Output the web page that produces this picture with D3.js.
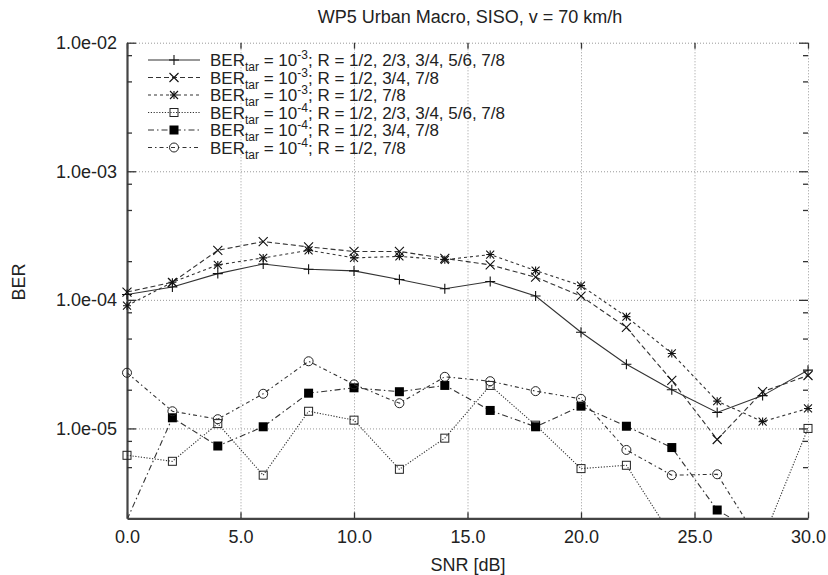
<!DOCTYPE html>
<html>
<head>
<meta charset="utf-8">
<script src="https://cdn.jsdelivr.net/npm/d3@7"></script>
<style>
  body { margin: 0; background: #fff; }
  svg { font-family: "Liberation Sans", Arial, sans-serif; }
  .grid line { stroke: #999; stroke-width: 1; stroke-dasharray: 1, 2; }
  .grid path { display: none; }
</style>
</head>
<body>
<svg id="chart" width="828" height="575"></svg>
<script>
// SNR points (dB)
var snr = [0, 2, 4, 6, 8, 10, 12, 14, 16, 18, 20, 22, 24, 26, 28, 30];

// BER_tar = 1e-3
var berA = [1.10e-4, 1.26e-4, 1.60e-4, 1.90e-4, 1.73e-4, 1.68e-4, 1.44e-4, 1.22e-4, 1.39e-4, 1.07e-4, 5.6e-5, 3.16e-5, 2.0e-5, 1.33e-5, 1.8e-5, 2.84e-5];
var berB = [1.15e-4, 1.37e-4, 2.43e-4, 2.84e-4, 2.58e-4, 2.38e-4, 2.38e-4, 2.10e-4, 1.87e-4, 1.50e-4, 1.07e-4, 6.1e-5, 2.36e-5, 8.2e-6, 1.93e-5, 2.58e-5];
var berC = [9.0e-5, 1.37e-4, 1.87e-4, 2.12e-4, 2.43e-4, 2.12e-4, 2.18e-4, 2.05e-4, 2.25e-4, 1.69e-4, 1.29e-4, 7.4e-5, 3.83e-5, 1.63e-5, 1.13e-5, 1.43e-5];
// BER_tar = 1e-4
var berD = [6.18e-6, 5.55e-6, 1.09e-5, 4.33e-6, 1.36e-5, 1.16e-5, 4.81e-6, 8.4e-6, 2.16e-5, 1.06e-5, 4.87e-6, 5.17e-6, 1.46e-6, 1.2e-6, 1.36e-6, 1.0e-5];
var berE = [1.95e-6, 1.21e-5, 7.3e-6, 1.03e-5, 1.88e-5, 2.07e-5, 1.93e-5, 2.16e-5, 1.38e-5, 1.03e-5, 1.49e-5, 1.04e-5, 7.1e-6, 2.32e-6, 1.44e-6, 1.0e-6];
var berF = [2.71e-5, 1.36e-5, 1.18e-5, 1.86e-5, 3.33e-5, 2.2e-5, 1.57e-5, 2.52e-5, 2.33e-5, 1.95e-5, 1.7e-5, 6.8e-6, 4.33e-6, 4.4e-6, 1.2e-6, 1.0e-6];

var legendExp = ["-3", "-3", "-3", "-4", "-4", "-4"];
var legendRates = ["1/2, 2/3, 3/4, 5/6, 7/8", "1/2, 3/4, 7/8", "1/2, 7/8",
                   "1/2, 2/3, 3/4, 5/6, 7/8", "1/2, 3/4, 7/8", "1/2, 7/8"];

var xTicks = [0, 5, 10, 15, 20, 25, 30];
var yTicks = [1e-2, 1e-3, 1e-4, 1e-5];
var yTickLabels = ["1.0e-02", "1.0e-03", "1.0e-04", "1.0e-05"];
var yMinor = [8e-3, 5e-3, 2e-3, 8e-4, 5e-4, 2e-4, 8e-5, 5e-5, 2e-5, 8e-6, 5e-6];

var series = [
    { values: berA, dash: null,         marker: "plus" },
    { values: berB, dash: "5,3",        marker: "cross" },
    { values: berC, dash: "3,3",        marker: "star" },
    { values: berD, dash: "1.2,1.6",    marker: "square" },
    { values: berE, dash: "6,3,1.5,3",  marker: "filled" },
    { values: berF, dash: "4,3,1.5,3",  marker: "circle" }
];

var plotLeft = 127, plotRight = 808, plotTop = 42.7, plotBottom = 518.3;
var ink = "#333";

var svg = d3.select("#chart");

var xScale = d3.scaleLinear().domain([0, 30]).range([plotLeft, plotRight]);
var yScale = d3.scaleLog().domain([2e-6, 1e-2]).range([plotBottom, plotTop]);

// grid
svg.append("g").attr("class", "grid")
    .attr("transform", "translate(0," + plotBottom + ")")
    .call(d3.axisBottom(xScale).tickValues(xTicks.slice(1)).tickSize(-(plotBottom - plotTop)).tickFormat(""));
svg.append("g").attr("class", "grid")
    .attr("transform", "translate(" + plotLeft + ",0)")
    .call(d3.axisLeft(yScale).tickValues(yTicks).tickSize(-(plotRight - plotLeft)).tickFormat(""));

function styleAxis(g, showDomain)
{
    g.selectAll(".tick line").attr("stroke", ink).attr("stroke-width", 1.3);
    g.selectAll("text").attr("fill", "#222").attr("font-size", 18)
        .attr("font-family", "'Liberation Sans', Arial, sans-serif");
    if (showDomain)
        g.select(".domain").attr("stroke", "#444").attr("stroke-width", 2.2);
    else
        g.select(".domain").remove();
}

// bottom axis
var xAxisG = svg.append("g")
    .attr("transform", "translate(0," + plotBottom + ")")
    .call(d3.axisBottom(xScale).tickValues(xTicks).tickSizeInner(-6).tickSizeOuter(0)
        .tickPadding(12).tickFormat(d3.format(".1f")));
styleAxis(xAxisG, true);

// top mirror ticks
var topG = svg.append("g")
    .attr("transform", "translate(0," + plotTop + ")")
    .call(d3.axisTop(xScale).tickValues(xTicks).tickSizeInner(-6).tickSizeOuter(0).tickFormat(""));
styleAxis(topG, false);

// left axis
var yAxisG = svg.append("g")
    .attr("transform", "translate(" + plotLeft + ",0)")
    .call(d3.axisLeft(yScale).tickValues(yTicks).tickSizeInner(-9).tickSizeOuter(0)
        .tickPadding(10).tickFormat(function(d, i) { return yTickLabels[i]; }));
styleAxis(yAxisG, true);
var yMinorG = svg.append("g")
    .attr("transform", "translate(" + plotLeft + ",0)")
    .call(d3.axisLeft(yScale).tickValues(yMinor).tickSizeInner(-5).tickSizeOuter(0).tickFormat(""));
styleAxis(yMinorG, false);

// right mirror ticks
var rightG = svg.append("g")
    .attr("transform", "translate(" + plotRight + ",0)")
    .call(d3.axisRight(yScale).tickValues(yTicks).tickSizeInner(-9).tickSizeOuter(0).tickFormat(""));
styleAxis(rightG, false);
var rightMinorG = svg.append("g")
    .attr("transform", "translate(" + plotRight + ",0)")
    .call(d3.axisRight(yScale).tickValues(yMinor).tickSizeInner(-5).tickSizeOuter(0).tickFormat(""));
styleAxis(rightMinorG, false);

// titles
svg.append("text").attr("x", 470).attr("y", 23).attr("text-anchor", "middle")
    .attr("font-size", 18).attr("fill", "#222").text("WP5 Urban Macro, SISO, v = 70 km/h");
svg.append("text").attr("x", 468).attr("y", 571).attr("text-anchor", "middle")
    .attr("font-size", 18).attr("fill", "#222").text("SNR [dB]");
svg.append("text").attr("transform", "translate(25,282) rotate(-90)").attr("text-anchor", "middle")
    .attr("font-size", 18).attr("fill", "#222").text("BER");

// markers
function drawMarker(g, type, x, y)
{
    var s;
    if (type == "plus" || type == "star")
    {
        s = type == "plus" ? 5 : 4;
        g.append("path").attr("d", "M" + (x - s) + "," + y + "H" + (x + s) + "M" + x + "," + (y - s) + "V" + (y + s))
            .attr("stroke", "#111").attr("stroke-width", 1.1).attr("fill", "none");
    }
    if (type == "cross" || type == "star")
    {
        s = type == "cross" ? 4.5 : 4;
        g.append("path").attr("d", "M" + (x - s) + "," + (y - s) + "L" + (x + s) + "," + (y + s) +
                "M" + (x - s) + "," + (y + s) + "L" + (x + s) + "," + (y - s))
            .attr("stroke", "#111").attr("stroke-width", 1.1).attr("fill", "none");
    }
    if (type == "square")
    {
        g.append("rect").attr("x", x - 4).attr("y", y - 4).attr("width", 8).attr("height", 8)
            .attr("fill", "none").attr("stroke", "#222").attr("stroke-width", 1);
    }
    if (type == "filled")
    {
        g.append("rect").attr("x", x - 4.5).attr("y", y - 4.5).attr("width", 9).attr("height", 9)
            .attr("fill", "#000");
    }
    if (type == "circle")
    {
        g.append("circle").attr("cx", x).attr("cy", y).attr("r", 4.5)
            .attr("fill", "none").attr("stroke", "#222").attr("stroke-width", 1);
    }
}

svg.append("clipPath").attr("id", "plotClip")
    .append("rect").attr("x", plotLeft - 6).attr("y", plotTop - 6)
    .attr("width", plotRight - plotLeft + 12).attr("height", plotBottom - plotTop + 6);
svg.append("clipPath").attr("id", "lineClip")
    .append("rect").attr("x", plotLeft).attr("y", plotTop)
    .attr("width", plotRight - plotLeft).attr("height", plotBottom - plotTop);

var line = d3.line()
    .x(function(d, i) { return xScale(snr[i]); })
    .y(function(d) { return yScale(d); });

var plot = svg.append("g");

series.forEach(function(s)
{
    plot.append("path")
        .attr("d", line(s.values))
        .attr("clip-path", "url(#lineClip)")
        .attr("fill", "none")
        .attr("stroke", ink)
        .attr("stroke-width", 1.1)
        .attr("stroke-dasharray", s.dash);

    var mg = plot.append("g").attr("clip-path", "url(#plotClip)");
    s.values.forEach(function(v, i)
    {
        if (v >= 2e-6)
            drawMarker(mg, s.marker, xScale(snr[i]), yScale(v));
    });
});

// legend
var rowY = [60, 77.5, 95, 112.5, 130, 147.5];
var legend = svg.append("g");
series.forEach(function(s, i)
{
    var y = rowY[i];
    legend.append("line").attr("x1", 148).attr("x2", 200).attr("y1", y).attr("y2", y)
        .attr("stroke", ink).attr("stroke-width", 1.1).attr("stroke-dasharray", s.dash);
    drawMarker(legend, s.marker, 174, y);

    var t = legend.append("text").attr("x", 210).attr("y", y + 6)
        .attr("font-size", 17).attr("fill", "#222");
    t.append("tspan").text("BER");
    t.append("tspan").attr("dy", 5).attr("font-size", 12).text("tar");
    t.append("tspan").attr("dy", -5).text(" = 10");
    t.append("tspan").attr("dy", -7).attr("font-size", 12).text(legendExp[i]);
    t.append("tspan").attr("dy", 7).text("; R = " + legendRates[i]);
});
</script>
</body>
</html>
